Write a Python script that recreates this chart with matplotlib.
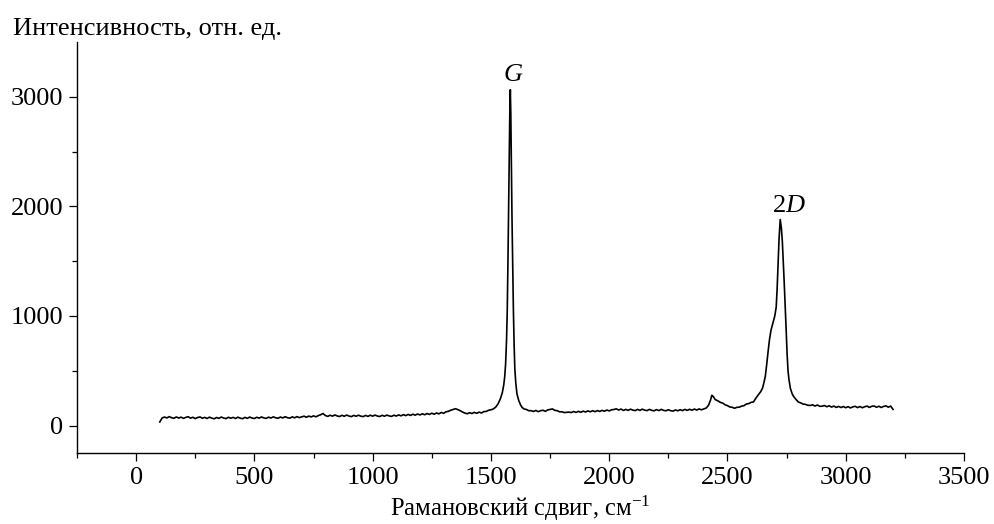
import matplotlib
matplotlib.use("Agg")
import matplotlib.pyplot as plt
from matplotlib.ticker import MultipleLocator, FixedLocator

plt.rcParams['font.family'] = ['Liberation Serif', 'DejaVu Serif']
plt.rcParams['mathtext.fontset'] = 'custom'
plt.rcParams['mathtext.rm'] = 'Liberation Serif'
plt.rcParams['mathtext.it'] = 'Liberation Serif:italic'

# ---- data ----
raman_shift = [
    100, 110, 120, 130, 140, 150, 160, 170, 180, 190,
    200, 210, 220, 230, 240, 250, 260, 270, 280, 290,
    300, 310, 320, 330, 340, 350, 360, 370, 380, 390,
    400, 410, 420, 430, 440, 450, 460, 470, 480, 490,
    500, 510, 520, 530, 540, 550, 560, 570, 580, 590,
    600, 610, 620, 630, 640, 650, 660, 670, 680, 690,
    700, 710, 720, 730, 740, 750, 760, 770, 780, 790,
    800, 810, 820, 830, 840, 850, 860, 870, 880, 890,
    900, 910, 920, 930, 940, 950, 960, 970, 980, 990,
    1000, 1010, 1020, 1030, 1040, 1050, 1060, 1070, 1080, 1090,
    1100, 1110, 1120, 1130, 1140, 1150, 1160, 1170, 1180, 1190,
    1200, 1210, 1220, 1230, 1240, 1250, 1260, 1270, 1280, 1290,
    1300, 1310, 1320, 1330, 1340, 1350, 1360, 1370, 1380, 1390,
    1400, 1410, 1420, 1430, 1440, 1450, 1460, 1470, 1480, 1490,
    1500, 1510, 1520, 1530, 1540, 1548, 1554, 1558, 1562, 1566,
    1569, 1572, 1575, 1578, 1580, 1582, 1584, 1586, 1589, 1592,
    1595, 1598, 1601, 1605, 1610, 1617, 1625, 1632, 1640, 1650,
    1660, 1670, 1680, 1690, 1700, 1710, 1720, 1730, 1740, 1750,
    1760, 1770, 1780, 1790, 1800, 1810, 1820, 1830, 1840, 1850,
    1860, 1870, 1880, 1890, 1900, 1910, 1920, 1930, 1940, 1950,
    1960, 1970, 1980, 1990, 2000, 2010, 2020, 2030, 2040, 2050,
    2060, 2070, 2080, 2090, 2100, 2110, 2120, 2130, 2140, 2150,
    2160, 2170, 2180, 2190, 2200, 2210, 2220, 2230, 2240, 2250,
    2260, 2270, 2280, 2290, 2300, 2310, 2320, 2330, 2340, 2350,
    2360, 2370, 2380, 2390, 2400, 2410, 2420, 2428, 2434, 2440,
    2448, 2460, 2470, 2480, 2490, 2500, 2510, 2520, 2530, 2540,
    2550, 2560, 2570, 2580, 2590, 2600, 2610, 2620, 2630, 2640,
    2648, 2654, 2660, 2666, 2672, 2678, 2684, 2690, 2695, 2700,
    2706, 2710, 2714, 2718, 2723, 2728, 2732, 2736, 2740, 2744,
    2748, 2752, 2756, 2760, 2766, 2773, 2780, 2790, 2800, 2810,
    2820, 2830, 2840, 2850, 2860, 2870, 2880, 2890, 2900, 2910,
    2920, 2930, 2940, 2950, 2960, 2970, 2980, 2990, 3000, 3010,
    3020, 3030, 3040, 3050, 3060, 3070, 3080, 3090, 3100, 3110,
    3120, 3130, 3140, 3150, 3160, 3170, 3180, 3190, 3200,
]
intensity = [
    33, 70, 78, 70, 82, 72, 67, 79, 69, 77,
    66, 75, 81, 68, 76, 64, 74, 79, 67, 75,
    65, 77, 68, 62, 74, 66, 78, 69, 64, 76,
    67, 75, 65, 77, 68, 63, 75, 66, 78, 69,
    65, 76, 68, 79, 70, 66, 77, 69, 80, 71,
    67, 78, 70, 81, 72, 68, 80, 71, 82, 73,
    79, 86, 76, 87, 79, 89, 80, 91, 99, 110,
    92, 84, 95, 86, 97, 88, 83, 94, 85, 96,
    87, 82, 93, 85, 95, 86, 82, 93, 84, 95,
    86, 96, 87, 83, 94, 85, 96, 88, 84, 95,
    87, 98, 89, 100, 91, 102, 93, 104, 95, 106,
    97, 108, 99, 110, 102, 113, 104, 115, 107, 120,
    112, 126, 130, 140, 147, 154, 146, 136, 124, 114,
    108, 118, 110, 121, 112, 123, 115, 128, 129, 140,
    144, 152, 168, 198, 245, 300, 369, 440, 560, 780,
    1050, 1500, 2050, 2600, 2900, 3065, 2850, 2450, 1900, 1450,
    1050, 740, 520, 390, 290, 232, 190, 165, 152, 147,
    136, 136, 129, 138, 127, 136, 140, 130, 143, 148,
    152, 139, 136, 126, 126, 119, 121, 123, 119, 129,
    120, 130, 122, 132, 124, 134, 126, 136, 127, 137,
    129, 139, 131, 142, 134, 144, 147, 153, 142, 151,
    138, 148, 139, 150, 141, 137, 148, 139, 150, 141,
    137, 148, 139, 135, 146, 137, 148, 139, 135, 145,
    136, 132, 143, 135, 145, 137, 148, 139, 149, 140,
    151, 142, 152, 144, 152, 160, 186, 230, 277, 265,
    238, 225, 212, 205, 190, 182, 170, 167, 158, 167,
    168, 178, 182, 197, 201, 212, 216, 250, 280, 308,
    340, 390, 450, 560, 680, 790, 870, 920, 960, 1000,
    1080, 1250, 1480, 1700, 1880, 1800, 1680, 1500, 1300, 1100,
    880, 660, 500, 420, 340, 293, 265, 238, 215, 207,
    196, 194, 185, 184, 190, 178, 188, 176, 177, 183,
    172, 181, 169, 178, 166, 175, 165, 174, 163, 173,
    161, 171, 176, 164, 174, 163, 172, 178, 166, 176,
    179, 167, 177, 165, 175, 180, 168, 178, 148,
]

peak_labels = ['$G$', '2$\\mathit{D}$']
peak_label_x = [1595, 2760]
peak_label_y = [3147, 1950]

x_major_ticks = [0, 500, 1000, 1500, 2000, 2500, 3000, 3500]
y_major_ticks = [0, 1000, 2000, 3000]
y_minor_ticks = [500, 1500, 2500]

# ---- figure ----
fig = plt.figure(figsize=(9.94, 5.24), dpi=100)
ax = fig.add_axes([77 / 994, 1 - 453 / 524, (964 - 77) / 994, (453 - 42) / 524])

ax.plot(raman_shift, intensity, color='black', lw=1.2)

for lab, lx, ly in zip(peak_labels, peak_label_x, peak_label_y):
    ax.text(lx, ly, lab, ha='center', va='baseline', fontsize=19)

ax.set_xlim(-250, 3500)
ax.set_ylim(-250, 3500)
ax.set_xticks(x_major_ticks)
ax.xaxis.set_minor_locator(MultipleLocator(250))
ax.set_yticks(y_major_ticks)
ax.yaxis.set_minor_locator(FixedLocator(y_minor_ticks))

for s in ['top', 'right']:
    ax.spines[s].set_visible(False)
for s in ['left', 'bottom']:
    ax.spines[s].set_linewidth(1.0)

ax.tick_params(axis='both', which='major', direction='out', length=6, width=0.9,
               labelsize=19, pad=4)
ax.tick_params(axis='both', which='minor', direction='out', length=3.5, width=0.9)

fig.text(12.7 / 994, 1 - 35 / 524, 'Интенсивность, отн. ед.', fontsize=19,
         ha='left', va='baseline')
fig.text(520 / 994, 1 - 516 / 524, 'Рамановский сдвиг, см$^{-1}$', fontsize=17.7,
         ha='center', va='baseline')

fig.savefig('out.png', dpi=100)
